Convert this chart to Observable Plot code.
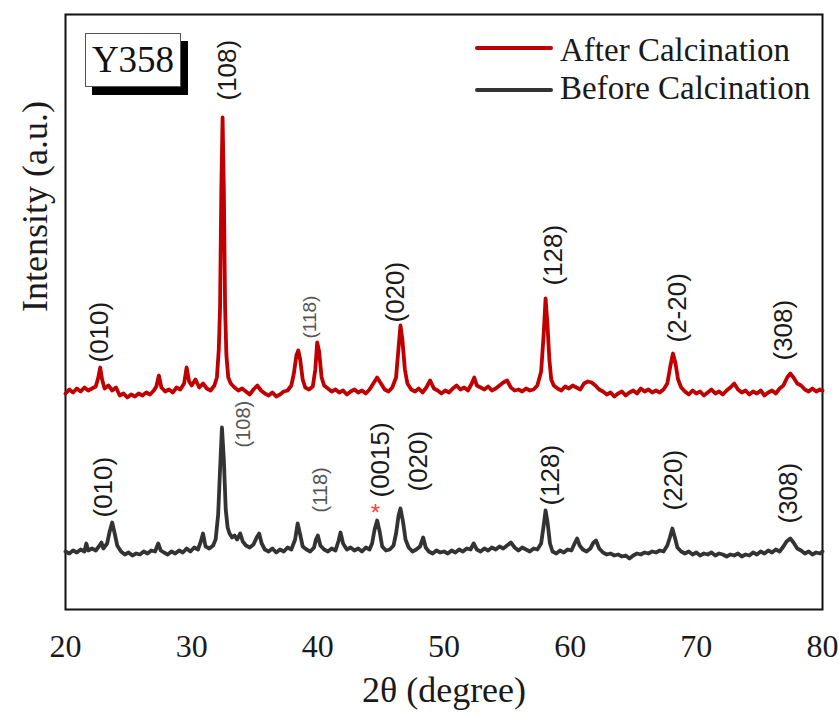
<!DOCTYPE html>
<html>
<head>
<meta charset="utf-8">
<script src="https://cdn.jsdelivr.net/npm/d3@7"></script>
<script src="https://cdn.jsdelivr.net/npm/@observablehq/plot@0.6"></script>
<style>
  html, body { margin: 0; padding: 0; background: #fff; }
  #wrap { position: relative; width: 839px; height: 713px; overflow: hidden; }
  .ov { position: absolute; font-family: "Liberation Serif", "Times New Roman", serif; color: #1a1a1a; white-space: nowrap; }
  .sample { position: absolute; height: 4px; border-radius: 2px; }
  #tag { position: absolute; left: 85px; top: 33px; width: 94px; height: 52px; background: #fff;
         border: 1.5px solid #555; box-shadow: 7px 8px 0 #000; font-family: "Liberation Serif", serif;
         font-size: 37px; line-height: 52px; text-align: center; color: #111; }
</style>
</head>
<body>
<div id="wrap">
  <div id="chart"></div>
  <div id="tag">Y358</div>
  <div class="sample" style="left:475px; top:46px; width:78px; background:#c00000;"></div>
  <div class="ov" style="left:560px; top:34px; font-size:33px; line-height:33px;">After Calcination</div>
  <div class="sample" style="left:475px; top:88px; width:78px; background:#333;"></div>
  <div class="ov" style="left:560px; top:72px; font-size:33px; line-height:33px;">Before Calcination</div>
</div>
<script>
// ---- Data (2θ in degrees, intensity in arbitrary units, stacked) ----
const xTicks = [20, 30, 40, 50, 60, 70, 80];

const afterCalcination = [
  [20.0,216],[20.3,220],[20.6,217],[20.9,221],[21.2,218],[21.5,222],[21.8,219],[22.1,221],[22.4,223],
  [22.6,232],[22.75,242],[22.9,230],[23.1,221],[23.4,224],[23.7,219],[24.0,222],[24.3,214],[24.6,216],
  [24.9,212],[25.2,215],[25.5,213],[25.8,216],[26.1,214],[26.4,217],[26.7,215],[27.0,219],[27.2,223],
  [27.4,234],[27.6,222],[27.9,218],[28.2,220],[28.5,217],[28.8,222],[29.1,220],[29.4,226],[29.6,242],
  [29.8,228],[30.0,224],[30.3,230],[30.6,222],[30.9,226],[31.2,221],[31.5,219],[31.8,224],[32.0,232],
  [32.15,260],[32.25,302],[32.35,420],[32.45,492],[32.55,420],[32.65,302],[32.75,255],[32.9,232],
  [33.1,226],[33.4,222],[33.7,219],[34.0,221],[34.3,218],[34.6,215],[34.9,220],[35.2,224],[35.5,219],
  [35.8,216],[36.1,214],[36.4,217],[36.7,213],[37.0,215],[37.3,218],[37.6,219],[37.9,224],[38.1,236],
  [38.3,254],[38.45,259],[38.6,250],[38.8,230],[39.0,222],[39.3,220],[39.6,223],[39.8,240],[39.95,267],
  [40.1,258],[40.3,232],[40.5,224],[40.8,221],[41.1,218],[41.4,220],[41.7,217],[42.0,219],[42.3,215],
  [42.6,218],[42.9,220],[43.2,217],[43.5,219],[43.8,216],[44.1,220],[44.4,226],[44.7,232],[45.0,226],
  [45.3,220],[45.6,218],[45.9,222],[46.2,232],[46.4,262],[46.55,284],[46.7,270],[46.9,240],[47.1,226],
  [47.4,220],[47.7,218],[48.0,221],[48.3,217],[48.6,222],[48.9,229],[49.2,221],[49.5,219],[49.8,216],
  [50.1,219],[50.4,217],[50.7,221],[51.0,224],[51.3,220],[51.6,222],[51.9,219],[52.2,226],[52.4,232],
  [52.6,224],[52.9,222],[53.2,220],[53.5,223],[53.8,219],[54.1,221],[54.4,224],[54.7,227],[55.0,229],
  [55.3,222],[55.6,219],[55.9,220],[56.2,218],[56.5,221],[56.8,219],[57.1,220],[57.4,224],[57.7,238],
  [57.9,275],[58.05,311],[58.2,285],[58.35,250],[58.5,230],[58.7,224],[59.0,221],[59.3,219],[59.6,223],
  [59.9,221],[60.2,224],[60.5,222],[60.8,220],[61.1,226],[61.4,228],[61.7,227],[62.0,224],[62.3,220],
  [62.6,218],[62.9,215],[63.2,217],[63.5,213],[63.8,216],[64.1,218],[64.4,214],[64.7,217],[65.0,219],
  [65.3,216],[65.6,221],[65.9,218],[66.2,220],[66.5,217],[66.8,219],[67.1,217],[67.4,220],[67.7,226],
  [67.95,244],[68.15,256],[68.35,246],[68.55,230],[68.8,222],[69.1,218],[69.4,215],[69.7,219],[70.0,216],
  [70.3,218],[70.6,214],[70.9,217],[71.2,220],[71.5,216],[71.8,218],[72.1,215],[72.4,219],[72.7,222],
  [73.0,226],[73.3,220],[73.6,217],[73.9,219],[74.2,215],[74.5,218],[74.8,216],[75.1,219],[75.4,214],
  [75.7,217],[76.0,219],[76.3,216],[76.6,221],[76.9,224],[77.2,232],[77.45,236],[77.7,232],[78.0,226],
  [78.3,224],[78.6,220],[78.9,218],[79.2,221],[79.5,218],[79.8,220],[80.0,219]
];

const beforeCalcination = [
  [20.0,58],[20.3,56],[20.6,59],[20.9,57],[21.2,60],[21.5,58],[21.65,66],[21.8,59],[22.1,61],[22.4,59],
  [22.7,64],[22.85,67],[23.0,61],[23.3,66],[23.5,78],[23.7,87],[23.9,76],[24.1,64],[24.4,58],[24.7,55],
  [25.0,57],[25.3,54],[25.6,56],[25.9,55],[26.2,58],[26.5,56],[26.8,59],[27.1,58],[27.35,66],[27.55,59],
  [27.8,57],[28.1,55],[28.4,58],[28.7,56],[29.0,59],[29.3,57],[29.6,61],[29.9,58],[30.2,62],[30.5,60],
  [30.7,67],[30.9,76],[31.1,63],[31.4,61],[31.7,64],[31.9,70],[32.1,95],[32.25,140],[32.4,182],
  [32.55,150],[32.7,100],[32.85,82],[33.0,76],[33.2,72],[33.4,74],[33.6,70],[33.85,76],[34.05,68],
  [34.3,64],[34.6,62],[34.9,65],[35.15,72],[35.35,76],[35.55,66],[35.8,60],[36.1,58],[36.4,61],[36.7,57],
  [37.0,60],[37.3,58],[37.6,62],[37.9,60],[38.2,70],[38.4,86],[38.6,75],[38.8,63],[39.1,60],[39.4,58],
  [39.7,62],[39.85,70],[40.0,74],[40.2,64],[40.5,60],[40.8,58],[41.1,61],[41.4,59],[41.65,69],[41.8,77],
  [42.0,66],[42.3,60],[42.6,62],[42.9,59],[43.2,61],[43.5,58],[43.8,62],[44.1,60],[44.3,66],[44.5,80],
  [44.7,89],[44.9,78],[45.1,63],[45.4,59],[45.7,60],[46.0,64],[46.2,76],[46.4,94],[46.55,101],[46.75,88],
  [46.95,70],[47.2,62],[47.5,58],[47.8,60],[48.1,63],[48.35,72],[48.55,62],[48.8,58],[49.1,56],[49.4,59],
  [49.7,57],[50.0,58],[50.3,56],[50.6,59],[50.9,57],[51.2,60],[51.5,58],[51.8,61],[52.1,60],[52.35,66],
  [52.6,60],[52.9,58],[53.2,61],[53.5,59],[53.8,62],[54.1,60],[54.4,63],[54.7,61],[55.0,64],[55.3,67],
  [55.6,62],[55.9,59],[56.2,62],[56.5,60],[56.8,58],[57.1,61],[57.4,60],[57.7,66],[57.9,84],[58.05,99],
  [58.2,88],[58.4,66],[58.6,58],[58.9,56],[59.2,59],[59.5,57],[59.8,60],[60.1,59],[60.35,66],[60.55,71],
  [60.75,64],[61.0,60],[61.3,58],[61.6,61],[61.85,67],[62.05,69],[62.3,61],[62.6,57],[62.9,55],[63.2,56],
  [63.5,54],[63.8,55],[64.1,53],[64.4,54],[64.7,51],[65.0,54],[65.3,56],[65.6,55],[65.9,57],[66.2,56],
  [66.5,58],[66.8,57],[67.1,59],[67.4,58],[67.7,64],[67.9,72],[68.1,81],[68.3,72],[68.5,62],[68.8,58],
  [69.1,56],[69.4,58],[69.7,55],[70.0,57],[70.3,54],[70.6,56],[70.9,55],[71.2,57],[71.5,54],[71.8,56],
  [72.1,55],[72.4,53],[72.7,55],[73.0,54],[73.3,56],[73.6,53],[73.9,55],[74.2,54],[74.5,57],[74.8,55],
  [75.1,58],[75.4,56],[75.7,59],[76.0,57],[76.3,60],[76.6,58],[76.9,63],[77.15,68],[77.45,71],[77.7,67],
  [78.0,61],[78.3,59],[78.6,56],[78.9,58],[79.2,55],[79.5,57],[79.8,56],[80.0,58]
];

// Peak (hkl) annotations: [label, 2θ, intensity at label foot]
const afterPeakLabels = [
  ["(010)",22.7,247],["(108)",32.85,509],["(020)",46.15,287],
  ["(128)",58.68,324],["(2-20)",68.5,267],["(308)",76.9,249]
];
const afterMinorLabels = [["(118)",39.4,271]];
const beforePeakLabels = [
  ["(010)",23.0,92],["(0015)",44.97,112],["(020)",47.98,118],
  ["(128)",58.44,104],["(220)",68.19,99],["(308)",77.3,86]
];
const beforeMinorLabels = [["(108)",34.1,162],["(118)",40.2,97]];
const impurityMarks = [["*",44.57,96]];

const chart = Plot.plot({
  width: 839,
  height: 713,
  marginLeft: 65,
  marginRight: 17,
  marginTop: 14,
  marginBottom: 104,
  style: { fontFamily: "Liberation Serif", fontSize: "32px", color: "#1a1a1a", background: "white", overflow: "visible" },
  x: { domain: [20, 80] },
  y: { domain: [0, 595], axis: null },
  marks: [
    Plot.frame({ stroke: "#111", strokeWidth: 2 }),
    Plot.axisX({ ticks: xTicks, tickSize: 0, tickPadding: 25, label: null, fontSize: 32 }),
    Plot.text(["2θ (degree)"], { frameAnchor: "bottom", dy: 92, fontSize: 36, fontFamily: "Liberation Serif", fill: "#1a1a1a" }),
    Plot.text(["Intensity (a.u.)"], { frameAnchor: "left", rotate: -90, dx: -30, fontSize: 36, fontFamily: "Liberation Serif", fill: "#1a1a1a" }),
    Plot.line(beforeCalcination, { x: d => d[0], y: d => d[1], stroke: "#333333", strokeWidth: 3.8, strokeLinejoin: "round" }),
    Plot.line(afterCalcination, { x: d => d[0], y: d => d[1], stroke: "#c00000", strokeWidth: 3.8, strokeLinejoin: "round" }),
    Plot.text(afterPeakLabels, { x: d => d[1], y: d => d[2], text: d => d[0], rotate: -90, textAnchor: "start", fontSize: 26, fontFamily: "Liberation Sans", fill: "#1a1a1a" }),
    Plot.text(afterMinorLabels, { x: d => d[1], y: d => d[2], text: d => d[0], rotate: -90, textAnchor: "start", fontSize: 19, fontFamily: "Liberation Sans", fill: "#555" }),
    Plot.text(beforePeakLabels, { x: d => d[1], y: d => d[2], text: d => d[0], rotate: -90, textAnchor: "start", fontSize: 26, fontFamily: "Liberation Sans", fill: "#1a1a1a" }),
    Plot.text(beforeMinorLabels, { x: d => d[1], y: d => d[2], text: d => d[0], rotate: -90, textAnchor: "start", fontSize: 20, fontFamily: "Liberation Sans", fill: "#555" }),
    Plot.text(impurityMarks, { x: d => d[1], y: d => d[2], text: d => d[0], fontSize: 24, fontFamily: "Liberation Sans", fill: "#ff4040" })
  ]
});
document.getElementById("chart").appendChild(chart);
</script>
</body>
</html>
